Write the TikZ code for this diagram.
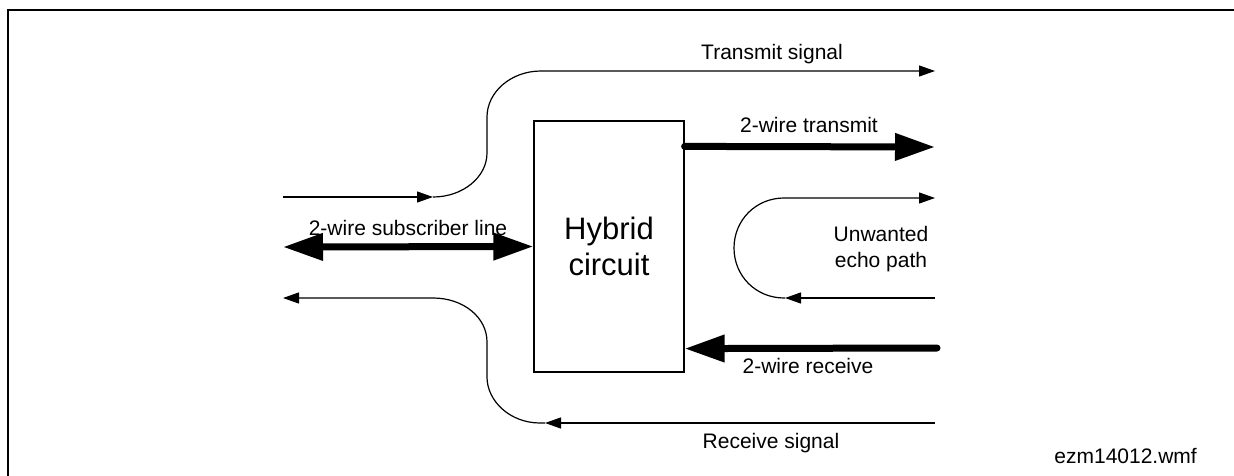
\documentclass[tikz,border=0pt]{standalone}
\usepackage{fontspec}
\setmainfont{Liberation Sans}
\usetikzlibrary{arrows.meta,calc}
\begin{document}
\begin{tikzpicture}[x=1pt,y=-1pt,
  lbl/.style={font=\fontsize{21}{26}\selectfont, inner sep=0pt, anchor=base},
  thin/.style={line width=1.2pt},
  thinarrow/.style={thin, -{Triangle[length=16pt,width=11pt]}},
  thick/.style={line width=7pt, line cap=round},
  thickarrow/.style={thick, -{Triangle[length=40pt,width=26pt]}},
  boxstyle/.style={draw, line width=1.2pt, minimum width=150pt, minimum height=251pt,
    inner sep=0pt, align=center, font=\fontsize{31}{36}\selectfont}
]
\useasboundingbox (0,0) rectangle (1234,476);
% frame
\draw[line width=2pt] (1234,10) -- (8,10) -- (8,476);

% hybrid box
\node[boxstyle] (hybrid) at (609,246.5) {Hybrid\\circuit};

% coordinates
\coordinate (tsA) at (283,197);
\coordinate (tsB) at (433,197);
\coordinate (tsC) at (935,71);
\coordinate (rsA) at (935,423);
\coordinate (rsB) at (545,423);
\coordinate (rsC) at (283,298);
\coordinate (subL) at (283,247);
\coordinate (txE) at (935,147);
\coordinate (rxS) at (937,348);
\coordinate (ecA) at (935,298);
\coordinate (ecB) at (785,298);
\coordinate (ecC) at (935,198);

% transmit signal
\draw[thinarrow] (tsA) -- (tsB);
\draw[thinarrow] (tsB) .. controls (463,197) and (487,177) .. (487,153)
  -- (487,117) .. controls (487,92) and (511,71) .. (541,71) -- (tsC);

% receive signal
\draw[thinarrow] (rsA) -- (rsB);
\draw[thinarrow] (rsB) -- (540,423) .. controls (510,423) and (487,401) .. (487,377)
  -- (487,342) .. controls (487,317) and (463,298) .. (433,298) -- (rsC);

% subscriber line
\draw[thick, {Triangle[length=40pt,width=26pt]}-{Triangle[length=40pt,width=26pt]}] (subL) -- (hybrid.west);

% 2-wire transmit
\draw[thickarrow] ($(hybrid.north east)+(0,26)$) -- (txE);
% 2-wire receive
\draw[thickarrow] (rxS) -- ($(hybrid.south east)+(0,-24)$);

% echo path
\draw[thinarrow] (ecA) -- (ecB);
\draw[thinarrow] (ecB) -- (784,298) .. controls (756,298) and (734,276) .. (734,248)
  .. controls (734,220) and (756,198) .. (784,198) -- (ecC);

% labels
\node[lbl] (tslbl) at (772,60) {Transmit signal};
\node[lbl] (txlbl) at (809,133) {2-wire transmit};
\node[lbl] (sublbl) at (408,235) {2-wire subscriber line};
\node[lbl] (ec1) at (881,241) {Unwanted};
\node[lbl] (ec2) at (881,267) {echo path};
\node[lbl] (rxlbl) at (808,373) {2-wire receive};
\node[lbl] (rslbl) at (771,448) {Receive signal};
\node[lbl, anchor=base east] (fname) at (1197,463) {ezm14012.wmf};
\end{tikzpicture}
\end{document}
